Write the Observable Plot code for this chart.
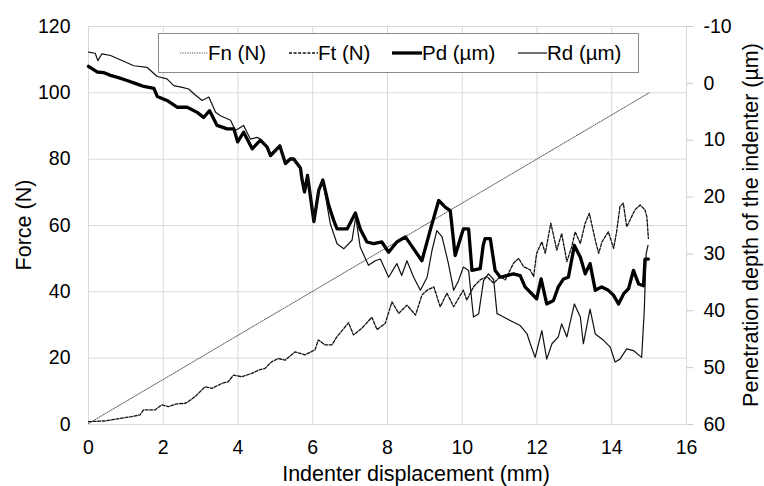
<!DOCTYPE html>
<html><head><meta charset="utf-8">
<script src="https://cdn.jsdelivr.net/npm/d3@7"></script>
<script src="https://cdn.jsdelivr.net/npm/@observablehq/plot@0.6"></script>
<style>
body{margin:0;background:#fff;}
#wrap{position:relative;width:764px;height:486px;font-family:"Liberation Sans",Arial,sans-serif;overflow:hidden;}
#legend{position:absolute;left:158px;top:33px;width:481px;height:40px;border:1px solid #8a8a8a;background:#fff;box-sizing:border-box;}
.item{position:absolute;top:0;height:38px;display:flex;align-items:center;font-size:20.5px;color:#000;white-space:nowrap;}
.item svg{display:block;}
.title{position:absolute;font-size:21.5px;line-height:1.05;color:#000;white-space:nowrap;}
</style></head><body><div id="wrap"></div>
<script>
// x-axis and tick values
const xTicks = [0, 2, 4, 6, 8, 10, 12, 14, 16];
const forceTicks = [0, 20, 40, 60, 80, 100, 120];
const depthTicks = [-10, 0, 10, 20, 30, 40, 50, 60];

// Fn (N): [displacement mm, force N]
const fnData = [[0, 0.3], [15, 100]];

// Ft (N): [displacement mm, force N]
const ftData = [
[0,0.85],[0.45,1.1],[0.89,1.9],[1.16,2.4],[1.38,2.9],[1.47,4.4],[1.78,4.4],[1.96,5.9],[2.14,5.4],[2.36,6.2],
[2.59,6.4],[2.67,6.9],[2.85,8.4],[3.12,11.4],[3.30,10.9],[3.57,12.4],[3.74,12.9],[3.88,14.9],[4.10,14.4],[4.37,15.4],
[4.55,16.4],[4.72,16.9],[4.90,18.9],[5.08,19.9],[5.26,19.4],[5.53,21.9],[5.79,21.0],[6.06,22.5],[6.15,25.5],[6.33,24.0],
[6.51,24.0],[6.65,26.5],[6.96,30.7],[7.09,27.0],[7.31,29.0],[7.58,32.3],[7.72,28.6],[7.94,30.5],[8.12,37.0],[8.30,33.5],
[8.52,36.0],[8.75,33.0],[8.92,39.0],[9.06,40.5],[9.24,41.5],[9.41,35.5],[9.59,39.6],[9.77,35.5],[9.95,39.0],[10.03,40.5],
[10.12,37.5],[10.30,41.5],[10.48,43.6],[10.66,44.6],[10.84,42.6],[11.02,44.6],[11.15,43.6],[11.37,48.6],[11.51,50.1],[11.64,47.6],
[11.82,46.6],[11.91,44.6],[11.99,51.6],[12.13,55.1],[12.22,51.6],[12.37,60.7],[12.53,52.6],[12.66,57.6],[12.80,49.1],[12.93,53.6],
[13.02,58.1],[13.16,54.6],[13.29,60.7],[13.40,63.7],[13.56,55.6],[13.65,51.6],[13.74,55.1],[13.91,58.1],[14.05,53.1],[14.13,58.1],
[14.22,65.7],[14.31,66.7],[14.40,59.6],[14.62,64.7],[14.76,66.2],[14.89,64.7],[14.94,62.6],[14.98,56.1]
];

// Pd (µm): [displacement mm, depth µm]
const pdData = [
[0,-3.0],[0.23,-2.0],[0.4,-1.9],[0.59,-1.4],[0.8,-1.0],[1.03,-0.5],[1.25,0.0],[1.48,0.55],[1.75,0.9],[1.84,2.3],
[2.10,3.0],[2.37,4.2],[2.64,4.2],[2.91,5.1],[3.08,6.0],[3.24,4.8],[3.44,7.4],[3.71,8.0],[3.89,8.0],[3.99,10.3],
[4.15,8.6],[4.38,11.5],[4.6,10.0],[4.78,11.2],[4.87,12.7],[5.12,11.0],[5.27,14.1],[5.40,13.3],[5.49,13.3],[5.58,14.1],
[5.67,14.9],[5.71,16.8],[5.78,19.1],[5.86,16.2],[6.03,24.3],[6.16,18.8],[6.27,17.0],[6.43,21.5],[6.56,24.1],[6.65,25.6],
[6.92,25.6],[7.14,22.8],[7.27,25.6],[7.45,27.9],[7.63,28.2],[7.85,27.9],[8.03,29.7],[8.25,27.9],[8.48,27.0],[8.70,29.1],
[8.92,31.2],[9.14,25.9],[9.37,20.6],[9.55,21.8],[9.68,22.4],[9.81,30.3],[9.95,27.3],[10.03,25.6],[10.17,25.6],[10.26,32.9],
[10.48,32.6],[10.56,28.5],[10.61,27.3],[10.75,27.3],[10.88,32.9],[11.02,34.1],[11.19,33.8],[11.37,33.5],[11.55,33.8],[11.68,35.8],
[11.86,37.0],[11.99,37.9],[12.11,34.4],[12.26,38.8],[12.44,38.2],[12.57,35.8],[12.71,34.4],[12.84,34.1],[13.0,28.5],[13.16,30.6],
[13.29,33.5],[13.42,31.7],[13.56,36.4],[13.73,35.8],[13.91,36.4],[14.05,37.3],[14.18,38.8],[14.32,37.0],[14.45,36.1],[14.58,32.9],
[14.72,35.3],[14.85,35.6],[14.89,30.9],[14.98,30.9]
];

// Rd (µm): [displacement mm, depth µm]
const rdData = [
[0,-5.5],[0.18,-5.3],[0.25,-4.0],[0.36,-5.2],[0.59,-4.9],[0.94,-3.9],[1.21,-3.1],[1.57,-2.8],[1.84,-1.2],[2.10,-0.8],
[2.28,0.4],[2.51,0.7],[2.68,1.0],[2.85,2.0],[3.04,3.0],[3.22,2.4],[3.40,5.1],[3.53,5.7],[3.80,6.5],[3.93,8.3],
[4.15,7.4],[4.33,9.8],[4.51,9.5],[4.6,9.8],[4.78,11.0],[4.87,12.4],[5.12,10.8],[5.27,13.8],[5.40,13.1],[5.58,13.9],
[5.67,14.7],[5.71,16.6],[5.78,18.8],[5.86,16.0],[6.03,24.0],[6.16,18.6],[6.27,17.1],[6.47,24.7],[6.65,28.2],[6.83,29.1],
[7.05,27.6],[7.15,23.5],[7.27,28.8],[7.49,32.0],[7.67,31.2],[7.81,30.9],[8.03,34.1],[8.25,31.7],[8.38,33.8],[8.52,31.2],
[8.70,34.1],[8.88,36.4],[9.06,34.1],[9.19,29.4],[9.32,25.9],[9.46,27.0],[9.63,31.7],[9.77,36.4],[9.90,34.7],[10.03,32.3],
[10.17,32.9],[10.30,41.1],[10.44,40.5],[10.57,34.7],[10.70,33.5],[10.84,34.5],[10.93,40.5],[11.02,40.8],[11.28,41.7],[11.55,42.6],
[11.73,44.0],[11.82,45.8],[11.95,48.2],[12.13,43.5],[12.26,48.5],[12.40,45.8],[12.57,44.6],[12.66,42.3],[12.80,44.6],[13.0,38.8],
[13.16,41.1],[13.24,45.8],[13.42,39.7],[13.56,44.1],[13.78,45.2],[13.96,46.4],[14.09,49.0],[14.22,48.5],[14.40,46.7],[14.58,47.0],
[14.80,48.2],[14.87,40.0],[14.92,30.0],[14.97,28.5]
];

// right axis (-10 at top, 60 at bottom) mapped onto the force scale (0..120)
const depthToForce = d => (60 - d) * 120 / 70;
const forceToDepth = f => 60 - f * 70 / 120;

const font = '"Liberation Sans", Arial, sans-serif';
const chart = Plot.plot({
  width: 764, height: 486,
  marginLeft: 88, marginRight: 78, marginTop: 26, marginBottom: 62,
  style: {fontFamily: font, fontSize: "19.5px", color: "#000", background: "#fff", overflow: "visible"},
  x: {domain: [0, 16]},
  y: {domain: [0, 120]},
  marks: [
    Plot.gridX(xTicks, {stroke: "#d9d9d9", strokeOpacity: 1}),
    Plot.gridY(forceTicks, {stroke: "#d9d9d9", strokeOpacity: 1}),
    Plot.axisX(xTicks, {tickSize: 0, tickPadding: 16, label: null}),
    Plot.axisY(forceTicks, {tickSize: 0, tickPadding: 18, label: null}),
    Plot.axisY(depthTicks.map(depthToForce), {anchor: "right", tickSize: 6, tickPadding: 11, stroke: "#c8c8c8", fill: "#000", label: null,
      tickFormat: v => String(Math.round(forceToDepth(v)))}),
    Plot.line(fnData, {x: d => d[0], y: d => d[1], stroke: "#555", strokeWidth: 1, strokeDasharray: "1.2,1.2"}),
    Plot.line(ftData, {x: d => d[0], y: d => d[1], stroke: "#111", strokeWidth: 1.3, strokeDasharray: "3,1.6"}),
    Plot.line(pdData, {x: d => d[0], y: d => depthToForce(d[1]), stroke: "#000", strokeWidth: 3.3, strokeLinejoin: "round"}),
    Plot.line(rdData, {x: d => d[0], y: d => depthToForce(d[1]), stroke: "#111", strokeWidth: 1.2, strokeLinejoin: "round"})
  ]
});
const wrap = document.getElementById("wrap");
wrap.appendChild(chart);

// axis titles
function addTitle(text, css) {
  const el = document.createElement("div");
  el.className = "title";
  el.textContent = text;
  Object.assign(el.style, css);
  wrap.appendChild(el);
}
addTitle("Indenter displacement (mm)", {left: "416px", top: "474px", transform: "translate(-50%,-50%)"});
addTitle("Force (N)", {left: "24px", top: "225px", transform: "translate(-50%,-50%) rotate(-90deg)"});
addTitle("Penetration depth of the indenter (µm)", {left: "751px", top: "225px", transform: "translate(-50%,-50%) rotate(-90deg)"});

// legend overlay
const legendItems = [
  {name: "Fn (N)", left: 21, width: 28, dash: "1.2,1.2", sw: 1, color: "#555"},
  {name: "Ft (N)", left: 130, width: 29, dash: "3,1.6", sw: 1.3, color: "#111"},
  {name: "Pd (µm)", left: 233, width: 30, dash: null, sw: 3.3, color: "#000"},
  {name: "Rd (µm)", left: 359, width: 29, dash: null, sw: 1.2, color: "#111"}
];
const legend = document.createElement("div");
legend.id = "legend";
for (const it of legendItems) {
  const el = document.createElement("div");
  el.className = "item";
  el.style.left = it.left + "px";
  el.innerHTML = `<svg width="${it.width}" height="10"><line x1="0" x2="${it.width}" y1="5" y2="5" stroke="${it.color}" stroke-width="${it.sw}" ${it.dash ? `stroke-dasharray="${it.dash}"` : ""}/></svg><span>${it.name}</span>`;
  legend.appendChild(el);
}
wrap.appendChild(legend);
</script>
</body></html>
